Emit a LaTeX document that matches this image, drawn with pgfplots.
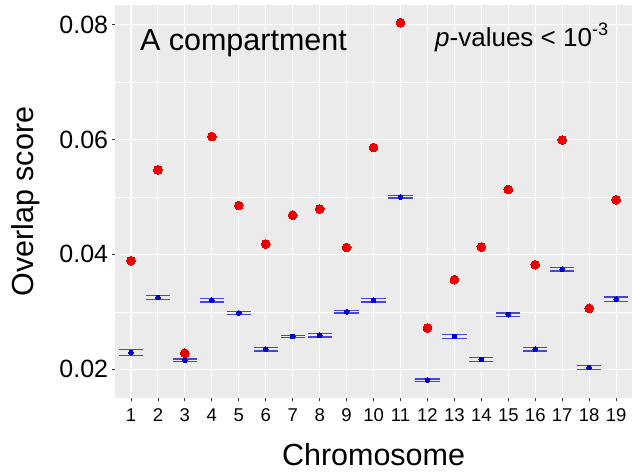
\documentclass[border=0pt]{standalone}
\usepackage{pgfplots}
\pgfplotsset{compat=1.18}
\usepackage{pgfplotstable}
\usepackage{fontspec}
\setmainfont{Liberation Sans}
\definecolor{panelbg}{RGB}{235,235,235}
\definecolor{tickgray}{RGB}{51,51,51}
\definecolor{obsred}{RGB}{235,0,0}
\definecolor{meanblue}{RGB}{0,0,205}
\definecolor{capblue}{RGB}{30,30,210}

\pgfplotstableread{
x obs mean lo hi
1 0.0389 0.0229 0.0224 0.0234
2 0.0547 0.0325 0.0322 0.0328
3 0.0228 0.0216 0.0214 0.0218
4 0.0605 0.0320 0.0317 0.0323
5 0.0485 0.0298 0.0295 0.0301
6 0.0418 0.0235 0.0232 0.0238
7 0.0468 0.0257 0.0255 0.0259
8 0.0479 0.0259 0.0256 0.0262
9 0.0412 0.0300 0.0298 0.0302
10 0.0586 0.0320 0.0317 0.0323
11 0.0803 0.0500 0.0498 0.0502
12 0.0272 0.0181 0.0179 0.0183
13 0.0356 0.0257 0.0254 0.0260
14 0.0413 0.0217 0.0214 0.0220
15 0.0513 0.0295 0.0292 0.0298
16 0.0382 0.0235 0.0232 0.0238
17 0.0599 0.0374 0.0371 0.0377
18 0.0306 0.0203 0.0200 0.0206
19 0.0495 0.0322 0.0318 0.0326
}\datatable

\begin{document}
\begin{tikzpicture}
\useasboundingbox (0,0) rectangle (632pt,475pt);
\begin{axis}[
  at={(114.8pt,76.7pt)}, anchor=south west,
  scale only axis, width=517.5pt, height=393.3pt,
  xmin=0.4, xmax=19.6, ymin=0.01495, ymax=0.08339,
  axis background/.style={fill=panelbg},
  axis line style={draw=none},
  xtick={1,...,19},
  ytick={0.02,0.04,0.06,0.08},
  minor ytick={0.03,0.05,0.07},
  yticklabels={0.02,0.04,0.06,0.08},
  scaled y ticks=false,
  grid=both,
  major grid style={white, line width=1.1pt},
  minor grid style={white, line width=0.55pt},
  tick align=outside,
  major tick length=3pt, minor tick length=0pt,
  tick style={color=tickgray, line width=0.8pt},
  xtick pos=bottom, ytick pos=left,
  /pgf/number format/assume math mode=true,
  xticklabel style={font=\fontsize{18.5}{18.5}\selectfont, inner sep=0pt, yshift=-7pt},
  yticklabel style={font=\fontsize{25}{25}\selectfont, inner sep=0pt, xshift=-3.5pt},
  xlabel={Chromosome},
  ylabel={Overlap score},
  xlabel style={font=\fontsize{30.5}{30.5}\selectfont, at={(axis description cs:0.5,0)}, anchor=base, yshift=-66.7pt},
  ylabel style={font=\fontsize{30.5}{30.5}\selectfont, at={(axis description cs:-0.158,0.5)}, anchor=base},
  clip=false,
]
\addplot[only marks, color=capblue, opacity=0.8, mark=-, mark size=12.1pt, mark options={line width=1.3pt}] table[x=x, y=hi] {\datatable};
\addplot[only marks, color=capblue, opacity=0.8, mark=-, mark size=12.1pt, mark options={line width=1.3pt}] table[x=x, y=lo] {\datatable};
\addplot[only marks, color=meanblue, mark=*, mark size=2.4pt, mark options={draw=meanblue, fill=meanblue, line width=0pt}] table[x=x, y=mean] {\datatable};
\addplot[only marks, color=obsred, mark=*, mark size=4.4pt, mark options={draw=obsred, fill=obsred, line width=0pt}] table[x=x, y=obs] {\datatable};
\node[anchor=base west, inner sep=0pt, font=\fontsize{30.5}{30.5}\selectfont] at (axis cs:1.33,0.0755) {A compartment};
\node[anchor=base west, inner sep=0pt, font=\fontsize{26}{26}\selectfont] at (axis cs:12.28,0.0761) {\textit{p}-values < 10\raisebox{0.42em}{\fontsize{18}{18}\selectfont -3}};
\end{axis}
\end{tikzpicture}
\end{document}
